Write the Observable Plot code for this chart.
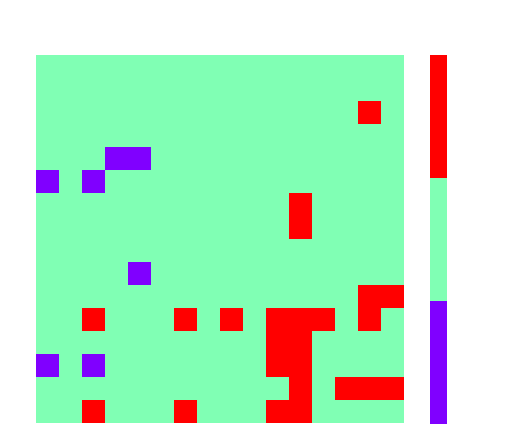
<!DOCTYPE html>
<html>
<head>
<meta charset="utf-8">
<script src="https://cdn.jsdelivr.net/npm/d3@7"></script>
<script src="https://cdn.jsdelivr.net/npm/@observablehq/plot@0.6"></script>
<style>
  html, body { margin: 0; padding: 0; background: #fff; }
  #wrap { position: relative; width: 525px; height: 445px; }
  #wrap > svg { position: absolute; }
</style>
</head>
<body>
<div id="wrap"></div>
<script>
// 16x16 grid of category values (-1, 0, 1), rows top to bottom
const grid = [
  [0,0,0,0,0,0,0,0,0,0,0,0,0,0,0,0],
  [0,0,0,0,0,0,0,0,0,0,0,0,0,0,0,0],
  [0,0,0,0,0,0,0,0,0,0,0,0,0,0,1,0],
  [0,0,0,0,0,0,0,0,0,0,0,0,0,0,0,0],
  [0,0,0,-1,-1,0,0,0,0,0,0,0,0,0,0,0],
  [-1,0,-1,0,0,0,0,0,0,0,0,0,0,0,0,0],
  [0,0,0,0,0,0,0,0,0,0,0,1,0,0,0,0],
  [0,0,0,0,0,0,0,0,0,0,0,1,0,0,0,0],
  [0,0,0,0,0,0,0,0,0,0,0,0,0,0,0,0],
  [0,0,0,0,-1,0,0,0,0,0,0,0,0,0,0,0],
  [0,0,0,0,0,0,0,0,0,0,0,0,0,0,1,1],
  [0,0,1,0,0,0,1,0,1,0,1,1,1,0,1,0],
  [0,0,0,0,0,0,0,0,0,0,1,1,0,0,0,0],
  [-1,0,-1,0,0,0,0,0,0,0,1,1,0,0,0,0],
  [0,0,0,0,0,0,0,0,0,0,0,1,0,1,1,1],
  [0,0,1,0,0,0,1,0,0,0,1,1,0,0,0,0]
];
const levels = [-1, 0, 1];
const palette = ["#8000ff", "#80ffb4", "#ff0000"];

const cells = [];
grid.forEach((row, r) => row.forEach((v, c) => cells.push({row: r, col: c, value: v})));

const colorScale = {type: "ordinal", domain: levels, range: palette};

const main = Plot.plot({
  width: 525,
  height: 445,
  marginLeft: 35,
  marginTop: 55,
  marginRight: 121,
  marginBottom: 22,
  x: {type: "band", domain: d3.range(16), padding: 0, axis: null},
  y: {type: "band", domain: d3.range(16), padding: 0, axis: null},
  color: colorScale,
  marks: [
    Plot.cell(cells, {x: "col", y: "row", fill: "value", inset: 0, shapeRendering: "crispEdges"})
  ]
});
main.style.left = "0px";
main.style.top = "0px";

const bar = Plot.plot({
  width: 17,
  height: 369,
  margin: 0,
  x: {type: "band", domain: [0], padding: 0, axis: null},
  y: {type: "band", domain: levels.slice().reverse(), padding: 0, axis: null},
  color: colorScale,
  marks: [
    Plot.cell(levels, {x: () => 0, y: d => d, fill: d => d, inset: 0, shapeRendering: "crispEdges"})
  ]
});
bar.style.left = "430px";
bar.style.top = "55px";

const wrap = document.getElementById("wrap");
wrap.appendChild(main);
wrap.appendChild(bar);
</script>
</body>
</html>
